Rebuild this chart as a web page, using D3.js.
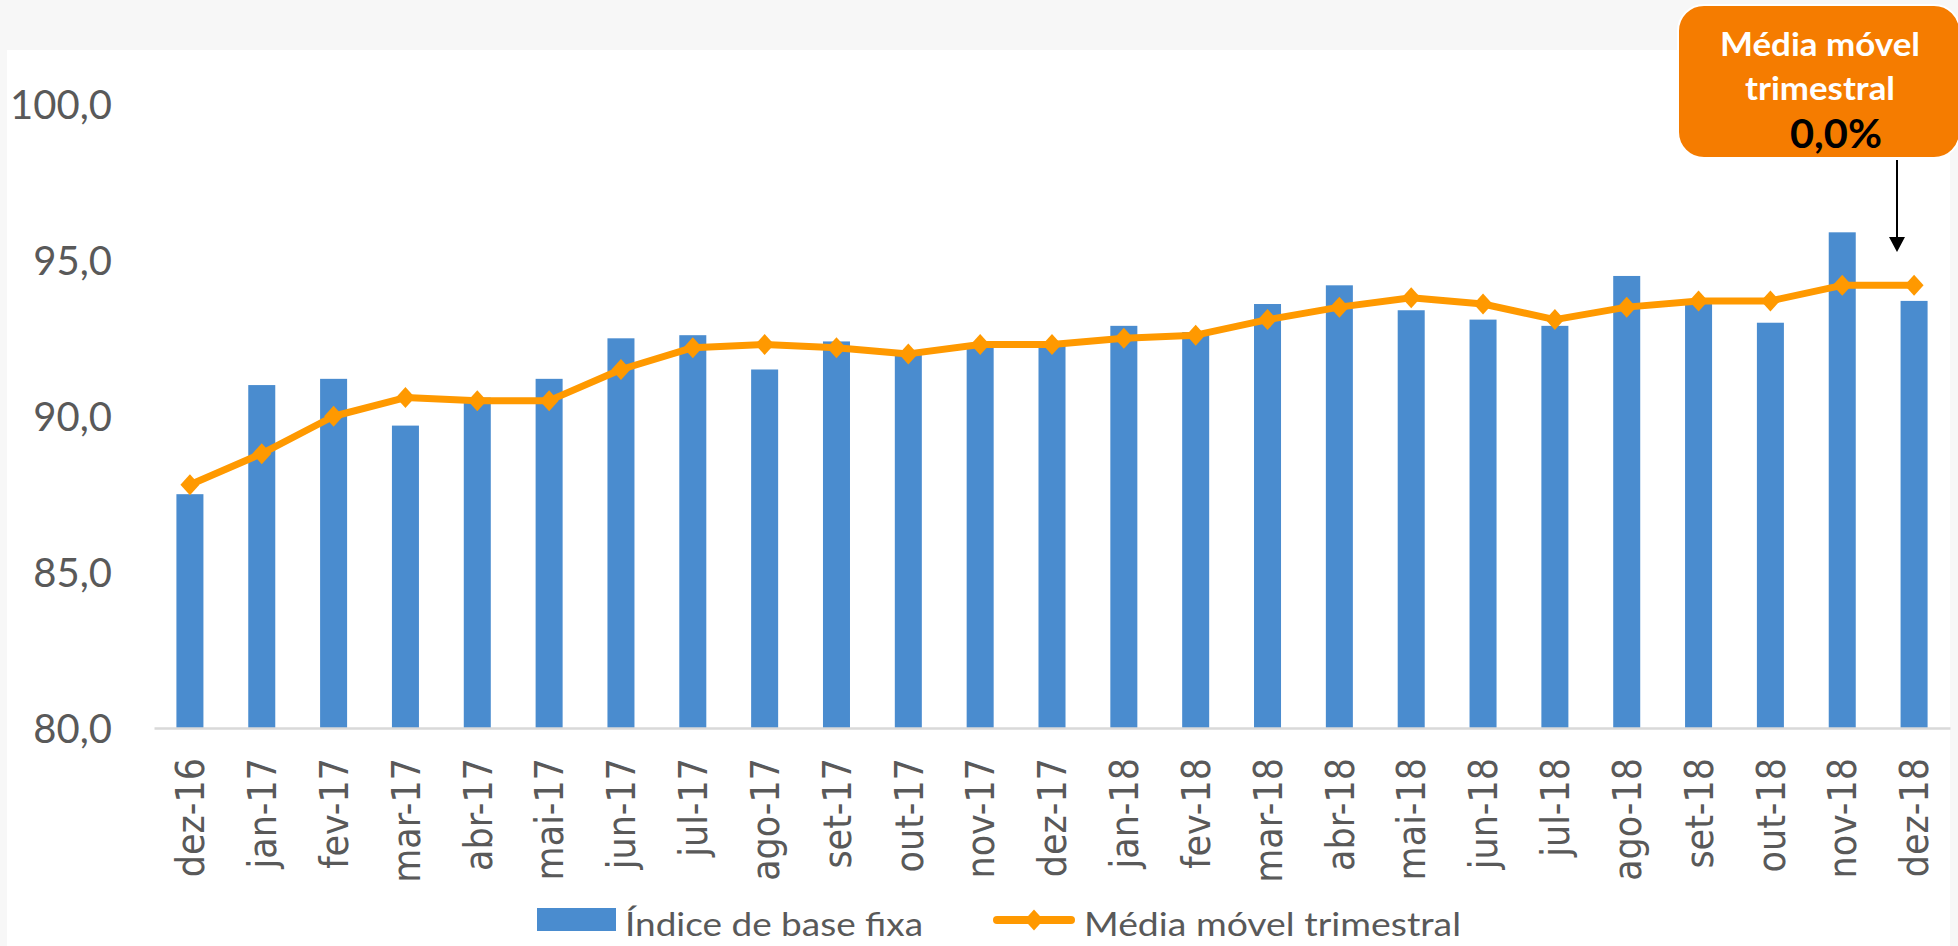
<!DOCTYPE html>
<html>
<head>
<meta charset="utf-8">
<script src="https://cdn.jsdelivr.net/npm/d3@7"></script>
<style>
  html, body { margin: 0; padding: 0; background: #f7f7f7; }
  svg { display: block; }
</style>
</head>
<body>
<svg id="chart" width="1958" height="946"></svg>
<script>
// ---- data ----
const categories = ["dez-16","jan-17","fev-17","mar-17","abr-17","mai-17","jun-17","jul-17","ago-17","set-17","out-17","nov-17","dez-17",
  "jan-18","fev-18","mar-18","abr-18","mai-18","jun-18","jul-18","ago-18","set-18","out-18","nov-18","dez-18"];
const indiceBaseFixa = [87.5, 91.0, 91.2, 89.7, 90.6, 91.2, 92.5, 92.6, 91.5, 92.4, 92.1, 92.3, 92.3,
  92.9, 92.7, 93.6, 94.2, 93.4, 93.1, 92.9, 94.5, 93.7, 93.0, 95.9, 93.7];
const mediaMovel = [87.8, 88.8, 90.0, 90.6, 90.5, 90.5, 91.5, 92.2, 92.3, 92.2, 92.0, 92.3, 92.3,
  92.5, 92.6, 93.1, 93.5, 93.8, 93.6, 93.1, 93.5, 93.7, 93.7, 94.2, 94.2];
const yTicks = [80, 85, 90, 95, 100];
const seriesNames = ["Índice de base fixa", "Média móvel trimestral"];
const calloutLines = ["Média móvel", "trimestral", "0,0%"];

// ---- setup ----
const svg = d3.select("#chart");
const W = 1958, H = 946;
const barColor = "#4a8ccf", lineColor = "#ff9900", textColor = "#595959";

// white chart area
svg.append("rect").attr("x", 7).attr("y", 50).attr("width", 1943).attr("height", H - 50).attr("fill", "#ffffff");

const x = d3.scaleBand().domain(categories).range([154, 1950]).paddingInner(0.624).paddingOuter(0.312);
const y = d3.scaleLinear().domain([80, 100]).range([728, 104.5]);

const loc = d3.formatLocale({decimal: ",", thousands: ".", grouping: [3], currency: ["R$", ""]});
const fmt = loc.format(".1f");

// y axis labels
const yAxis = svg.append("g").attr("transform", "translate(112,0)")
  .call(d3.axisLeft(y).tickValues(yTicks).tickSize(0).tickPadding(0).tickFormat(fmt));
yAxis.select(".domain").remove();
yAxis.selectAll("text")
  .attr("x", 0).attr("dy", "0.36em")
  .attr("font-family", "Lato, 'Open Sans', sans-serif").attr("font-size", 40)
  .attr("fill", textColor).attr("text-anchor", "end");

// bars
svg.append("g").selectAll("rect").data(indiceBaseFixa).join("rect")
  .attr("x", (d, i) => x(categories[i]))
  .attr("width", x.bandwidth())
  .attr("y", d => y(d))
  .attr("height", d => y(80) - y(d))
  .attr("fill", barColor);

// x axis
const xAxis = svg.append("g").attr("transform", "translate(0,728)")
  .call(d3.axisBottom(x).tickSize(0).tickSizeOuter(0));
xAxis.attr("font-family", null);
xAxis.select(".domain").attr("stroke", "#d9d9d9").attr("stroke-width", 2.5);
xAxis.selectAll("text")
  .attr("x", 0).attr("y", 0).attr("dy", "0.36em")
  .attr("transform", "translate(0,30) rotate(-90) scale(1,1.13)")
  .attr("text-anchor", "end")
  .style("font-family", "'DejaVu Sans', Verdana, sans-serif").style("font-size", "35px")
  .attr("fill", textColor);

// line
const cx = (i) => x(categories[i]) + x.bandwidth() / 2;
const line = d3.line().x((d, i) => cx(i)).y(d => y(d));
svg.append("path").datum(mediaMovel)
  .attr("d", line).attr("fill", "none").attr("stroke", lineColor)
  .attr("stroke-width", 7).attr("stroke-linejoin", "round");

const diamond = "M0,-10.5L9.5,0L0,10.5L-9.5,0Z";
svg.append("g").selectAll("path").data(mediaMovel).join("path")
  .attr("d", diamond)
  .attr("transform", (d, i) => `translate(${cx(i)},${y(d)})`)
  .attr("fill", lineColor);

// legend
const lg = svg.append("g");
lg.append("rect").attr("x", 537).attr("y", 908).attr("width", 79).attr("height", 23).attr("fill", barColor);
lg.append("text").attr("x", 625).attr("y", 936).text(seriesNames[0])
  .attr("font-family", "Lato, 'Open Sans', sans-serif").attr("font-size", 32).attr("fill", textColor)
  .attr("textLength", 298).attr("lengthAdjust", "spacingAndGlyphs");
lg.append("line").attr("x1", 997).attr("x2", 1071).attr("y1", 920).attr("y2", 920)
  .attr("stroke", lineColor).attr("stroke-width", 8).attr("stroke-linecap", "round");
lg.append("path").attr("d", diamond).attr("transform", "translate(1034,920)").attr("fill", lineColor);
lg.append("text").attr("x", 1084).attr("y", 936).text(seriesNames[1])
  .attr("font-family", "Lato, 'Open Sans', sans-serif").attr("font-size", 32).attr("fill", textColor)
  .attr("textLength", 377).attr("lengthAdjust", "spacingAndGlyphs");

// callout
const co = svg.append("g");
co.append("rect").attr("x", 1678).attr("y", 5).attr("width", 282).attr("height", 153).attr("rx", 26)
  .attr("fill", "#f57c00").attr("stroke", "#ffffff").attr("stroke-width", 2);
co.append("text").attr("x", 1820).attr("y", 56).attr("text-anchor", "middle").text(calloutLines[0])
  .attr("font-family", "Lato, sans-serif").attr("font-weight", "bold").attr("font-size", 33).attr("fill", "#ffffff")
  .attr("textLength", 200).attr("lengthAdjust", "spacingAndGlyphs");
co.append("text").attr("x", 1820).attr("y", 100).attr("text-anchor", "middle").text(calloutLines[1])
  .attr("font-family", "Lato, sans-serif").attr("font-weight", "bold").attr("font-size", 33).attr("fill", "#ffffff")
  .attr("textLength", 150).attr("lengthAdjust", "spacingAndGlyphs");
co.append("text").attr("x", 1836).attr("y", 148).attr("text-anchor", "middle").text(calloutLines[2])
  .attr("font-family", "Lato, sans-serif").attr("font-weight", "bold").attr("font-size", 40).attr("fill", "#000000")
  .attr("textLength", 92).attr("lengthAdjust", "spacingAndGlyphs");
// arrow
co.append("line").attr("x1", 1897).attr("x2", 1897).attr("y1", 160).attr("y2", 240)
  .attr("stroke", "#000").attr("stroke-width", 2);
co.append("path").attr("d", "M1889,237L1905,237L1897,252Z").attr("fill", "#000");
</script>
</body>
</html>
